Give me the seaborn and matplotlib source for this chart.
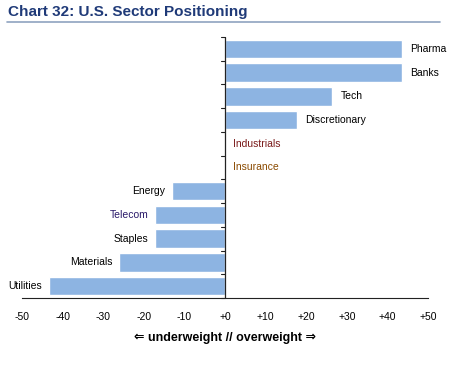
import matplotlib
matplotlib.use("Agg")
import matplotlib.pyplot as plt
import pandas as pd
import seaborn as sns
from matplotlib.lines import Line2D

sectors = ["Pharma", "Banks", "Tech", "Discretionary", "Industrials", "Insurance",
           "Energy", "Telecom", "Staples", "Materials", "Utilities"]
positions = [43.6, 43.6, 26.4, 17.7, 0.0, 0.0, -13.0, -17.2, -17.2, -26.0, -43.3]
label_colors = ["#000000", "#000000", "#000000", "#000000", "#7a1a1a", "#8a4a00",
                "#000000", "#2a1a6a", "#000000", "#000000", "#000000"]
xticks = [-50, -40, -30, -20, -10, 0, 10, 20, 30, 40, 50]
xtick_labels = ["-50", "-40", "-30", "-20", "-10", "+0", "+10", "+20", "+30", "+40", "+50"]

df = pd.DataFrame({"sector": sectors, "pos": positions})

sns.set_style("white")
fam = ["Liberation Sans Narrow", "Liberation Sans", "DejaVu Sans"]
plt.rcParams["font.family"] = fam
plt.rcParams["text.color"] = "black"
plt.rcParams["xtick.color"] = "black"

fig = plt.figure(figsize=(4.69, 3.67), dpi=100)
ax = fig.add_axes([22 / 469, 1 - 298 / 367, 406 / 469, 261 / 367])

sns.barplot(data=df, y="sector", x="pos", orient="h", color="#8db4e2",
            saturation=1, width=0.78, ax=ax)

ax.set_xlim(-50, 50)
ax.set_ylim(len(sectors) - 0.5, -0.5)
ax.set_xticks(xticks)
ax.set_xticklabels(xtick_labels, fontsize=7.5)
ax.set_yticks([i + 0.5 for i in range(-1, len(sectors))])
ax.set_yticklabels([])
ax.yaxis.set_ticks_position("none")
ax.tick_params(axis="x", length=4, direction="out", width=0.8, color="#222222", pad=6)
for s in ["top", "right", "left"]:
    ax.spines[s].set_visible(False)
ax.spines["bottom"].set_color("#222222")
ax.spines["bottom"].set_linewidth(0.8)
ax.axvline(0, color="#222222", lw=0.9, zorder=3)
for yt in ax.get_yticks():
    ax.plot([-0.9, 0], [yt, yt], color="#222222", lw=0.8, clip_on=False, zorder=3)
ax.set_xlabel("")
ax.set_ylabel("")

for i, (name, v, c) in enumerate(zip(sectors, positions, label_colors)):
    if v >= 0:
        ax.annotate(name, (v, i), xytext=(6, 0), textcoords="offset points",
                    ha="left", va="center", fontsize=7.5, color=c, family=fam)
    else:
        ax.annotate(name, (v, i), xytext=(-5, 0), textcoords="offset points",
                    ha="right", va="center", fontsize=7.5, color=c, family=fam)

fig.text(225 / 469, 1 - 338 / 367, "\u21d0 underweight // overweight \u21d2",
         ha="center", va="center", fontsize=9, fontweight="bold", color="black",
         family=["Liberation Sans Narrow", "Liberation Sans", "DejaVu Sans"])

fig.text(8 / 469, 1 - 12 / 367, "Chart 32: U.S. Sector Positioning", ha="left",
         va="center", fontsize=11, fontweight="bold", color="#1f3a78",
         family=["Liberation Sans", "DejaVu Sans"])
fig.add_artist(Line2D([7 / 469, 440 / 469], [1 - 21.5 / 367, 1 - 21.5 / 367],
                      color="#8fa3c0", lw=1.2, transform=fig.transFigure))

fig.savefig("out.png", dpi=100)
